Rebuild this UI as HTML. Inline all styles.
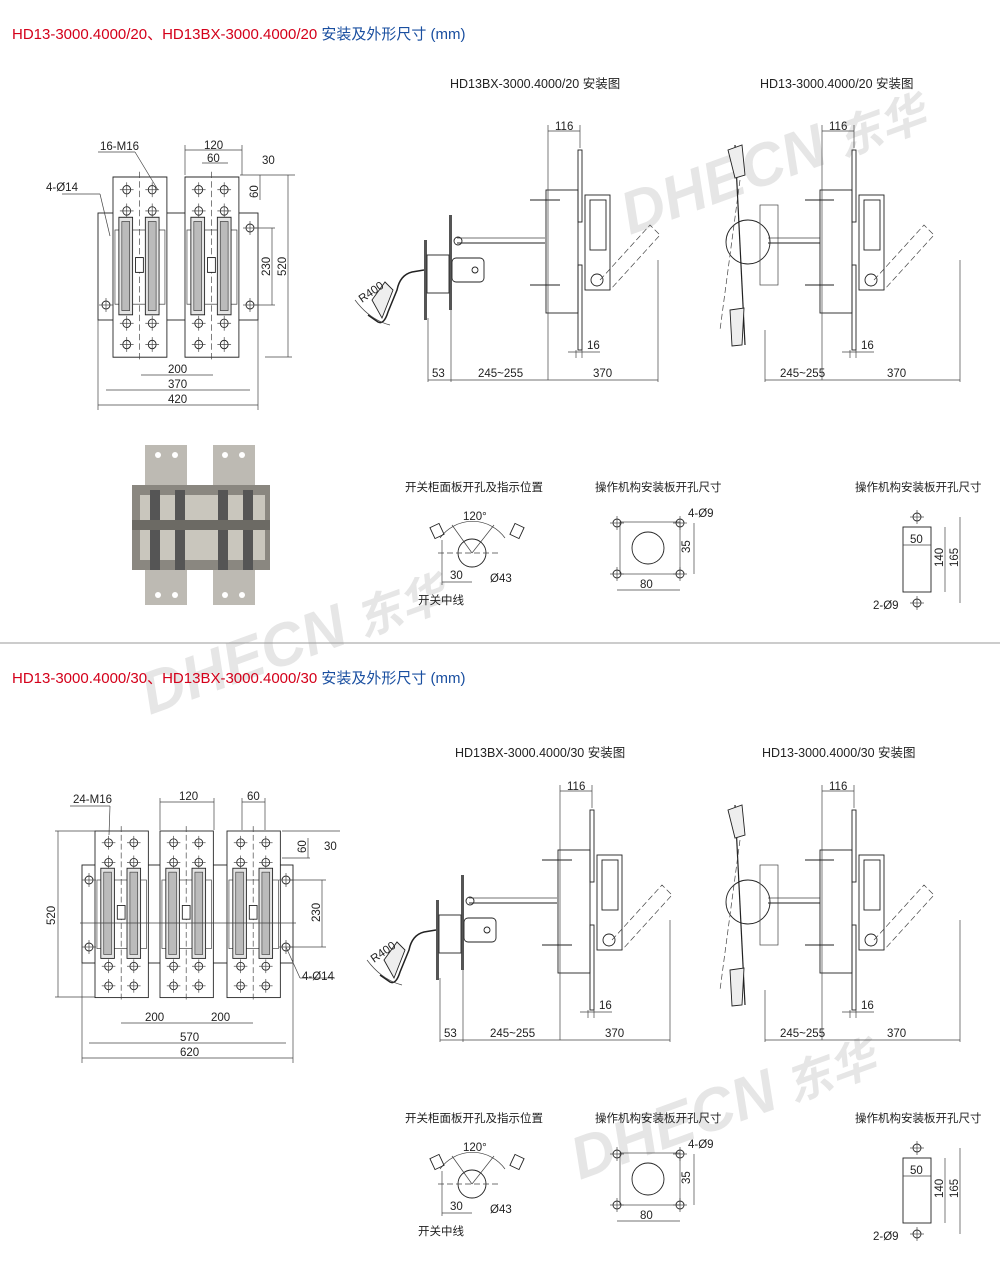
<!DOCTYPE html>
<html><head><meta charset="utf-8"><style>
html,body{margin:0;padding:0;background:#fff;}
svg{display:block;font-family:"Liberation Sans","Noto Sans CJK SC",sans-serif;}
.l{stroke:#222;stroke-width:0.9;fill:none}
.t{stroke:#444;stroke-width:0.7;fill:none}
.d{stroke:#444;stroke-width:0.7;fill:none;stroke-dasharray:6,3}
text{fill:#222;font-size:11.5px}
</style></head><body>
<svg width="1000" height="1270" viewBox="0 0 1000 1270">
<defs>
<g id="hole"><circle r="4" class="l"/><line x1="-7" y1="0" x2="7" y2="0" class="t"/><line x1="0" y1="-7" x2="0" y2="7" class="t"/></g>
<g id="pole">
 <rect x="0" y="0" width="55" height="170" class="l" style="fill:#fff"/>
 <line x1="27" y1="-5" x2="27" y2="175" class="d"/>
 <use href="#hole" x="14" y="12"/><use href="#hole" x="40" y="12"/>
 <use href="#hole" x="14" y="32"/><use href="#hole" x="40" y="32"/>
 <use href="#hole" x="14" y="138"/><use href="#hole" x="40" y="138"/>
 <use href="#hole" x="14" y="158"/><use href="#hole" x="40" y="158"/>
 <rect x="2" y="50" width="51" height="70" class="t"/>
 <rect x="6" y="38" width="14" height="92" class="l" style="fill:#e4e4e4"/>
 <rect x="9" y="42" width="8" height="84" class="t" style="fill:#bbb"/>
 <rect x="33" y="38" width="14" height="92" class="l" style="fill:#e4e4e4"/>
 <rect x="36" y="42" width="8" height="84" class="t" style="fill:#bbb"/>
 <rect x="23" y="76" width="8" height="14" class="l" style="fill:#fff"/>
</g>
<g id="bx">
 <rect x="424" y="240" width="3" height="80" style="fill:#555"/>
 <rect x="449" y="215" width="3" height="95" style="fill:#555"/>
 <rect x="427" y="255" width="22" height="38" class="l"/>
 <rect x="452" y="258" width="32" height="24" rx="4" class="l"/>
 <circle cx="475" cy="270" r="3" class="l"/>
 <path d="M424 270 L412 272 Q400 275 397 290 L388 312 Q384 325 378 322 L368 315" class="l" style="stroke-width:1.5"/>
 <path d="M372 300 L385 282 L393 290 L382 318 Z" class="l" style="fill:#eee"/>
 <path d="M355 300 Q370 320 390 325" class="t"/>
 <line x1="457" y1="243" x2="545" y2="243" class="l"/>
 <line x1="457" y1="238" x2="545" y2="238" class="t"/>
 <circle cx="458" cy="241" r="4" class="l"/>
 <rect x="546" y="190" width="32" height="123" class="l"/>
 <rect x="578" y="150" width="4" height="72" class="l"/>
 <rect x="578" y="265" width="4" height="85" class="l"/>
 <rect x="585" y="195" width="25" height="95" class="l"/>
 <rect x="590" y="200" width="16" height="50" class="l"/>
 <circle cx="597" cy="280" r="6" class="l"/>
 <line x1="530" y1="200" x2="560" y2="200" class="l"/><line x1="530" y1="285" x2="560" y2="285" class="l"/>
 <path d="M600 280 L650 225 L660 235 L610 290" class="d"/>
 <line x1="548" y1="125" x2="548" y2="380" class="t"/>
 <line x1="580" y1="125" x2="580" y2="148" class="t"/>
 <line x1="548" y1="131" x2="580" y2="131" class="t"/>
 <text x="555" y="130">116</text>
 <line x1="576" y1="350" x2="576" y2="358" class="t"/><line x1="582" y1="350" x2="582" y2="358" class="t"/>
 <line x1="568" y1="352" x2="600" y2="352" class="t"/><text x="587" y="349">16</text>
 <line x1="428" y1="318" x2="428" y2="382" class="t"/><line x1="451" y1="310" x2="451" y2="382" class="t"/>
 <line x1="658" y1="260" x2="658" y2="382" class="t"/>
 <line x1="428" y1="380" x2="658" y2="380" class="t"/>
 <text x="432" y="377">53</text><text x="478" y="377">245~255</text><text x="593" y="377">370</text>
 <text x="362" y="303" transform="rotate(-35 362 303)">R400</text>
</g>
<g id="hd">
 <circle cx="748" cy="242" r="22" class="l"/>
 <line x1="735" y1="145" x2="745" y2="345" class="l" style="stroke-width:1.2"/>
 <path d="M728 150 L742 145 L745 175 L735 178 Z" class="l" style="fill:#eee"/>
 <path d="M730 310 L744 308 L742 345 L732 346 Z" class="l" style="fill:#eee"/>
 <path d="M740 180 L720 330" class="d"/>
 <line x1="768" y1="243" x2="820" y2="243" class="l"/><line x1="768" y1="238" x2="820" y2="238" class="t"/>
 <rect x="760" y="205" width="18" height="80" class="t"/>
 <rect x="820" y="190" width="32" height="123" class="l"/>
 <rect x="852" y="150" width="4" height="72" class="l"/>
 <rect x="852" y="265" width="4" height="85" class="l"/>
 <rect x="859" y="195" width="25" height="95" class="l"/>
 <rect x="864" y="200" width="16" height="50" class="l"/>
 <circle cx="871" cy="280" r="6" class="l"/>
 <line x1="805" y1="200" x2="834" y2="200" class="l"/><line x1="805" y1="285" x2="834" y2="285" class="l"/>
 <path d="M874 280 L924 225 L934 235 L884 290" class="d"/>
 <line x1="822" y1="125" x2="822" y2="380" class="t"/><line x1="854" y1="125" x2="854" y2="148" class="t"/>
 <line x1="822" y1="131" x2="854" y2="131" class="t"/><text x="829" y="130">116</text>
 <line x1="850" y1="350" x2="850" y2="358" class="t"/><line x1="856" y1="350" x2="856" y2="358" class="t"/>
 <line x1="842" y1="352" x2="874" y2="352" class="t"/><text x="861" y="349">16</text>
 <line x1="765" y1="330" x2="765" y2="382" class="t"/><line x1="960" y1="260" x2="960" y2="382" class="t"/>
 <line x1="765" y1="380" x2="960" y2="380" class="t"/>
 <text x="780" y="377">245~255</text><text x="887" y="377">370</text>
</g>
<g id="small">
 <text x="405" y="491">开关柜面板开孔及指示位置</text>
 <circle cx="472" cy="553" r="14" class="l"/>
 <line x1="438" y1="553" x2="500" y2="553" class="d"/>
 <path d="M440 538 A40 40 0 0 1 505 538" class="t"/>
 <line x1="472" y1="553" x2="452" y2="525" class="t"/><line x1="472" y1="553" x2="494" y2="525" class="t"/>
 <rect x="432" y="525" width="10" height="12" class="l" transform="rotate(-25 437 531)"/>
 <rect x="512" y="525" width="10" height="12" class="l" transform="rotate(25 517 531)"/>
 <text x="463" y="520">120°</text>
 <line x1="442" y1="540" x2="442" y2="585" class="t"/><line x1="442" y1="582" x2="472" y2="582" class="t"/>
 <text x="450" y="579">30</text><text x="490" y="582">Ø43</text>
 <text x="418" y="604">开关中线</text>
 <text x="595" y="491">操作机构安装板开孔尺寸</text>
 <rect x="620" y="522" width="60" height="52" class="t"/>
 <circle cx="648" cy="548" r="16" class="l"/>
 <use href="#hole" x="617" y="523"/><use href="#hole" x="680" y="523"/>
 <use href="#hole" x="617" y="574"/><use href="#hole" x="680" y="574"/>
 <line x1="694" y1="523" x2="694" y2="574" class="t"/><text x="690" y="553" transform="rotate(-90 690 553)">35</text>
 <line x1="617" y1="590" x2="680" y2="590" class="t"/><text x="640" y="588">80</text>
 <text x="688" y="517">4-Ø9</text>
 <text x="855" y="491">操作机构安装板开孔尺寸</text>
 <rect x="903" y="527" width="28" height="65" class="l"/>
 <use href="#hole" x="917" y="517"/><use href="#hole" x="917" y="603"/>
 <line x1="903" y1="545" x2="931" y2="545" class="t"/><text x="910" y="543">50</text>
 <line x1="945" y1="527" x2="945" y2="592" class="t"/><line x1="960" y1="517" x2="960" y2="603" class="t"/>
 <text x="943" y="567" transform="rotate(-90 943 567)">140</text>
 <text x="958" y="567" transform="rotate(-90 958 567)">165</text>
 <text x="873" y="609">2-Ø9</text>
</g>
</defs>

<!-- watermarks -->
<text x="630" y="235" transform="rotate(-20 630 235)" style="fill:#e6e6e6;font-size:60px;font-weight:bold;font-style:italic">DHECN<tspan style="font-size:46px"> 东华</tspan></text>
<text x="150" y="715" transform="rotate(-20 150 715)" style="fill:#e6e6e6;font-size:60px;font-weight:bold;font-style:italic">DHECN<tspan style="font-size:46px"> 东华</tspan></text>
<text x="580" y="1180" transform="rotate(-20 580 1180)" style="fill:#e6e6e6;font-size:60px;font-weight:bold;font-style:italic">DHECN<tspan style="font-size:46px"> 东华</tspan></text>

<!-- titles -->
<text x="12" y="39" style="font-size:15px;fill:#d4001a">HD13-3000.4000/20、HD13BX-3000.4000/20 <tspan style="fill:#1a4fa0">安装及外形尺寸 (mm)</tspan></text>
<text x="12" y="683" style="font-size:15px;fill:#d4001a">HD13-3000.4000/30、HD13BX-3000.4000/30 <tspan style="fill:#1a4fa0">安装及外形尺寸 (mm)</tspan></text>
<line x1="0" y1="643" x2="1000" y2="643" style="stroke:#999;stroke-width:1"/>

<text x="450" y="88" style="font-size:12.5px">HD13BX-3000.4000/20 安装图</text>
<text x="760" y="88" style="font-size:12.5px">HD13-3000.4000/20 安装图</text>
<text x="455" y="757" style="font-size:12.5px">HD13BX-3000.4000/30 安装图</text>
<text x="762" y="757" style="font-size:12.5px">HD13-3000.4000/30 安装图</text>

<!-- top left drawing -->
<rect x="98" y="213" width="160" height="107" class="l"/>
<use href="#pole" transform="translate(113,177) scale(0.98,1.06)"/>
<use href="#pole" transform="translate(185,177) scale(0.98,1.06)"/>
<use href="#hole" x="106" y="305"/><use href="#hole" x="250" y="228"/><use href="#hole" x="250" y="305"/>
<g class="t">
<line x1="185" y1="150" x2="242" y2="150"/><line x1="202" y1="163" x2="228" y2="163"/>
<line x1="185" y1="145" x2="185" y2="175"/><line x1="242" y1="145" x2="242" y2="175"/>
<line x1="260" y1="175" x2="260" y2="200"/><line x1="240" y1="175" x2="295" y2="175"/>
<line x1="288" y1="175" x2="288" y2="357"/><line x1="265" y1="357" x2="292" y2="357"/>
<line x1="272" y1="228" x2="272" y2="305"/><line x1="255" y1="228" x2="275" y2="228"/><line x1="255" y1="305" x2="275" y2="305"/>
<line x1="141" y1="375" x2="213" y2="375"/><line x1="106" y1="390" x2="250" y2="390"/><line x1="98" y1="405" x2="258" y2="405"/>
<line x1="98" y1="320" x2="98" y2="410"/><line x1="258" y1="320" x2="258" y2="410"/>
<line x1="62" y1="194" x2="100" y2="194"/><line x1="100" y1="194" x2="110" y2="236"/>
<line x1="98" y1="152" x2="135" y2="152"/><line x1="135" y1="152" x2="158" y2="190"/>
</g>
<text x="100" y="150">16-M16</text><text x="46" y="191">4-Ø14</text>
<text x="204" y="149">120</text><text x="207" y="162">60</text><text x="262" y="164">30</text>
<text x="258" y="198" transform="rotate(-90 258 198)">60</text>
<text x="270" y="276" transform="rotate(-90 270 276)">230</text>
<text x="286" y="276" transform="rotate(-90 286 276)">520</text>
<text x="168" y="373">200</text><text x="168" y="388">370</text><text x="168" y="403">420</text>

<!-- photo -->
<g>
<rect x="145" y="445" width="42" height="160" style="fill:#bdbab3"/>
<rect x="213" y="445" width="42" height="160" style="fill:#bdbab3"/>
<rect x="132" y="485" width="138" height="85" style="fill:#8a8780"/>
<rect x="140" y="495" width="125" height="65" style="fill:#c9c6bd"/>
<g style="fill:#555"><rect x="150" y="490" width="10" height="80"/><rect x="175" y="490" width="10" height="80"/><rect x="218" y="490" width="10" height="80"/><rect x="243" y="490" width="10" height="80"/></g>
<rect x="132" y="520" width="138" height="10" style="fill:#6c6a64"/>
<g style="fill:#fff"><circle cx="158" cy="455" r="3"/><circle cx="175" cy="455" r="3"/><circle cx="225" cy="455" r="3"/><circle cx="242" cy="455" r="3"/><circle cx="158" cy="595" r="3"/><circle cx="175" cy="595" r="3"/><circle cx="225" cy="595" r="3"/><circle cx="242" cy="595" r="3"/></g>
</g>

<use href="#bx"/>
<use href="#hd"/>
<use href="#small"/>

<!-- bottom left drawing -->
<rect x="82" y="865" width="211" height="98" class="l"/>
<use href="#pole" transform="translate(95,831) scale(0.97,0.98)"/>
<use href="#pole" transform="translate(160,831) scale(0.97,0.98)"/>
<use href="#pole" transform="translate(227,831) scale(0.97,0.98)"/>
<use href="#hole" x="89" y="880"/><use href="#hole" x="89" y="947"/><use href="#hole" x="286" y="880"/><use href="#hole" x="286" y="947"/>
<line x1="80" y1="923" x2="296" y2="923" class="t"/>
<g class="t">
<line x1="160" y1="802" x2="214" y2="802"/><line x1="242" y1="802" x2="265" y2="802"/>
<line x1="160" y1="798" x2="160" y2="830"/><line x1="214" y1="798" x2="214" y2="830"/><line x1="242" y1="798" x2="242" y2="830"/><line x1="265" y1="798" x2="265" y2="830"/>
<line x1="58" y1="831" x2="58" y2="997"/><line x1="55" y1="831" x2="95" y2="831"/><line x1="55" y1="997" x2="95" y2="997"/>
<line x1="308" y1="838" x2="308" y2="858"/><line x1="282" y1="831" x2="340" y2="831"/><line x1="282" y1="858" x2="310" y2="858"/>
<line x1="322" y1="880" x2="322" y2="947"/><line x1="290" y1="880" x2="326" y2="880"/><line x1="290" y1="947" x2="326" y2="947"/>
<line x1="121" y1="1023" x2="253" y2="1023"/><line x1="89" y1="1043" x2="286" y2="1043"/><line x1="82" y1="1058" x2="293" y2="1058"/>
<line x1="82" y1="963" x2="82" y2="1063"/><line x1="293" y1="963" x2="293" y2="1063"/>
<line x1="70" y1="806" x2="110" y2="806"/><line x1="110" y1="806" x2="109" y2="835"/>
<line x1="286" y1="947" x2="300" y2="978"/><line x1="300" y1="978" x2="335" y2="978"/>
</g>
<text x="73" y="803">24-M16</text><text x="302" y="980">4-Ø14</text>
<text x="179" y="800">120</text><text x="247" y="800">60</text><text x="324" y="850">30</text>
<text x="306" y="853" transform="rotate(-90 306 853)">60</text>
<text x="320" y="922" transform="rotate(-90 320 922)">230</text>
<text x="55" y="925" transform="rotate(-90 55 925)">520</text>
<text x="145" y="1021">200</text><text x="211" y="1021">200</text><text x="180" y="1041">570</text><text x="180" y="1056">620</text>

<use href="#bx" transform="translate(12,660)"/>
<use href="#hd" transform="translate(0,660)"/>
<use href="#small" transform="translate(0,631)"/>
</svg>
</body></html>
